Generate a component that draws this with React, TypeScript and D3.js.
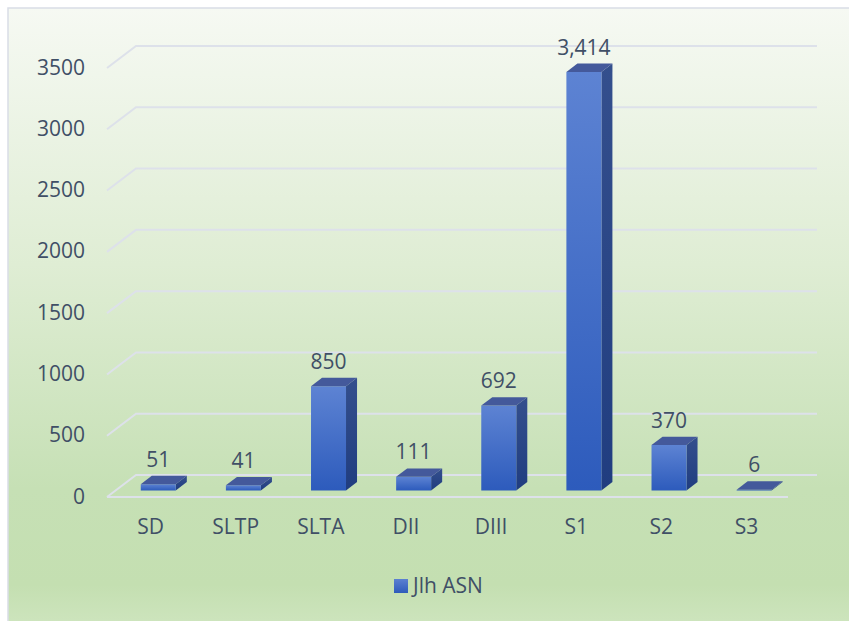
import React from "react";
import * as d3 from "d3";

const categories = ["SD", "SLTP", "SLTA", "DII", "DIII", "S1", "S2", "S3"];
const values = [51, 41, 850, 111, 692, 3414, 370, 6];
const yTicks = [0, 500, 1000, 1500, 2000, 2500, 3000, 3500];
const seriesName = "Jlh ASN";

const W = 849;
const H = 621;
const FONT = "'Open Sans', 'Noto Sans', sans-serif";
const TEXT = "#404f66";
const FS = 21;

export default function App() {
  const x0 = 107;
  const x1 = 788;
  const floorY = 497;
  const depthX = 29;
  const depthY = -22;
  const f0 = 0.3;
  const f1 = 0.68;

  const xBand = d3.scaleBand<string>().domain(categories).range([x0, x1]).paddingInner(0).paddingOuter(0);
  const h = d3.scaleLinear().domain([0, 3500]).range([0, 429]);
  const fmt = d3.format(",");

  const P = (x: number, v: number, f: number): [number, number] => [
    x + depthX * f,
    floorY + depthY * f - h(v),
  ];
  const pts = (arr: [number, number][]) => arr.map((p) => p.join(",")).join(" ");

  const barW = 35;

  return (
    <svg
      width={W}
      height={H}
      style={{ position: "absolute", left: 0, top: 0, display: "block" }}
      fontFamily={FONT}
    >
      <defs>
        <linearGradient id="bg" x1="0" y1="0" x2="0" y2="1">
          <stop offset="0" stopColor="#f6f9f3" />
          <stop offset="0.4" stopColor="#dfedd4" />
          <stop offset="0.75" stopColor="#c6e0b5" />
          <stop offset="0.9" stopColor="#c4dfb1" />
          <stop offset="1" stopColor="#d3e8c5" />
        </linearGradient>
        <linearGradient id="front" x1="0" y1="0" x2="0" y2="1">
          <stop offset="0" stopColor="#5d83d3" />
          <stop offset="1" stopColor="#2d5bbc" />
        </linearGradient>
        <linearGradient id="side" x1="0" y1="0" x2="0" y2="1">
          <stop offset="0" stopColor="#344f8d" />
          <stop offset="1" stopColor="#203d80" />
        </linearGradient>
        <linearGradient id="legend" x1="0" y1="0" x2="0" y2="1">
          <stop offset="0" stopColor="#5b80d1" />
          <stop offset="1" stopColor="#2e5bbb" />
        </linearGradient>
      </defs>

      <rect x={8} y={8} width={W + 20} height={H + 20} fill="url(#bg)" stroke="#d9dde6" strokeWidth={1.5} />

      {/* gridlines: side wall + back wall */}
      {yTicks.map((t) => {
        const a = P(x0, t, 0);
        const b = P(x0, t, 1);
        const c = P(x1, t, 1);
        return (
          <polyline
            key={"g" + t}
            points={pts([a, b, c])}
            fill="none"
            stroke="#dde1ea"
            strokeWidth={2}
          />
        );
      })}
      {/* floor front edge */}
      <line
        x1={P(x0, 0, 0)[0]}
        y1={P(x0, 0, 0)[1]}
        x2={P(x1, 0, 0)[0]}
        y2={P(x1, 0, 0)[1]}
        stroke="#dde1ea"
        strokeWidth={2}
      />

      {/* y tick labels */}
      {yTicks.map((t) => (
        <text
          key={"yt" + t}
          x={85}
          y={P(x0, t, 0)[1] + 1}
          textAnchor="end"
          dominantBaseline="middle"
          fontSize={FS}
          fill={TEXT}
        >
          {t}
        </text>
      ))}

      {/* bars */}
      {categories.map((c, i) => {
        const v = values[i];
        const cx = (xBand(c) as number) + xBand.bandwidth() / 2;
        const xl = cx - barW / 2;
        const xr = cx + barW / 2;
        const fl0 = P(xl, 0, f0);
        const fr0 = P(xr, 0, f0);
        const flv = P(xl, v, f0);
        const frv = P(xr, v, f0);
        const br0 = P(xr, 0, f1);
        const brv = P(xr, v, f1);
        const blv = P(xl, v, f1);
        return (
          <g key={"b" + c}>
            <polygon points={pts([fr0, frv, brv, br0])} fill="url(#side)" />
            <polygon points={pts([fl0, flv, frv, fr0])} fill="url(#front)" />
            <polygon points={pts([flv, frv, brv, blv])} fill="#44599b" />
            <text
              x={(fl0[0] + fr0[0]) / 2}
              y={brv[1] - 9}
              textAnchor="middle"
              fontSize={FS}
              fill={TEXT}
            >
              {fmt(v)}
            </text>
          </g>
        );
      })}

      {/* category labels */}
      {categories.map((c) => (
        <text
          key={"c" + c}
          x={(xBand(c) as number) + xBand.bandwidth() / 2 + 1}
          y={528}
          textAnchor="middle"
          dominantBaseline="middle"
          fontSize={FS}
          fill={TEXT}
        >
          {c}
        </text>
      ))}

      {/* legend */}
      <rect x={394} y={579} width={14} height={14} fill="url(#legend)" />
      <text x={413} y={587} dominantBaseline="middle" fontSize={FS} fill={TEXT}>
        {seriesName}
      </text>
    </svg>
  );
}
